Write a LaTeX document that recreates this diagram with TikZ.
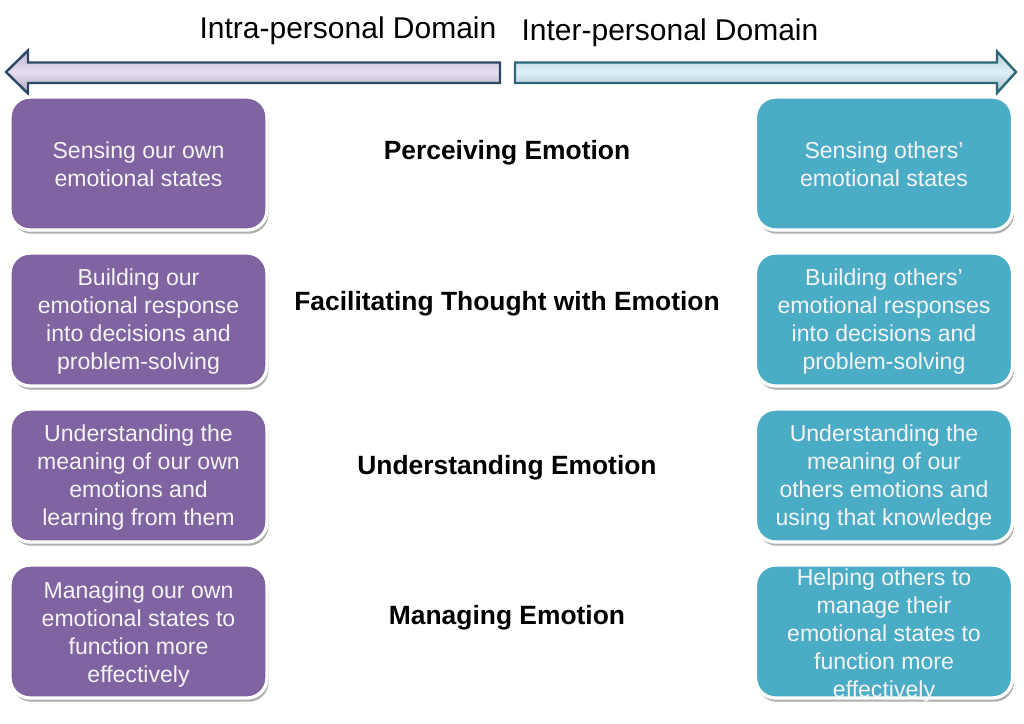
\documentclass[tikz,border=0pt]{standalone}
\usepackage{fontspec}
\setmainfont{Liberation Sans}
\usetikzlibrary{shadows}
\definecolor{purplebox}{HTML}{8064A2}
\definecolor{cyanbox}{HTML}{4BACC6}
\definecolor{lavfill}{HTML}{D9D0EA}
\definecolor{lavedge}{HTML}{2E4762}
\definecolor{cyfill}{HTML}{CDEBF3}
\definecolor{cyedge}{HTML}{2D6878}
\definecolor{boxtext}{HTML}{F4F4F4}
\tikzset{
  box/.style={draw=white, line width=2.5pt, rounded corners=15pt,
    minimum width=192.75pt, minimum height=99.75pt, inner sep=0pt,
    drop shadow={shadow xshift=1.2pt, shadow yshift=-2.8pt, opacity=0.45, fill=black!70}},
  lbox/.style={box, fill=purplebox},
  rbox/.style={box, fill=cyanbox},
  boxtxt/.style={text=boxtext, align=center, inner sep=0pt,
    font=\fontsize{17.3}{21}\selectfont},
  midtxt/.style={font=\fontsize{19.8}{23}\selectfont\bfseries, inner sep=0pt},
  headtxt/.style={font=\fontsize{22.5}{26}\selectfont, inner sep=0pt},
}
\begin{document}
\begin{tikzpicture}[x=0.75pt, y=-0.75pt]
\useasboundingbox (0,0) rectangle (1024,724);
% arrows
\shade[top color=lavfill!88!black, bottom color=lavfill!80!black, middle color=lavfill!70!white, draw=lavedge, line width=1.8pt, line join=miter]
  (500,62.5) -- (28,62.5) -- (28,50.5) -- (6,72) -- (28,93.5) -- (28,83) -- (500,83) -- cycle;
\shade[top color=cyfill!88!black, bottom color=cyfill!80!black, middle color=cyfill!70!white, draw=cyedge, line width=1.8pt, line join=miter]
  (515,62.5) -- (997,62.5) -- (997,51.5) -- (1016,72) -- (997,93) -- (997,83) -- (515,83) -- cycle;
\node[headtxt] (hl) at (348,31) {Intra-personal Domain};
\node[headtxt] (hr) at (670,33) {Inter-personal Domain};
% boxes
\node[lbox] (L1) at (138.5,163.5) {};
\node[lbox] (L2) at (138.5,319.5) {};
\node[lbox] (L3) at (138.5,475.5) {};
\node[lbox] (L4) at (138.5,631.5) {};
\node[rbox] (R1) at (884,163.5) {};
\node[rbox] (R2) at (884,319.5) {};
\node[rbox] (R3) at (884,475.5) {};
\node[rbox] (R4) at (884,631.5) {};
\node[boxtxt] (L1t) at (138.5,164) {Sensing our own\\emotional states};
\node[boxtxt] (L2t) at (138.5,322) {Building our\\emotional response\\into decisions and\\problem-solving};
\node[boxtxt] (L3t) at (138.5,478) {Understanding the\\meaning of our own\\emotions and\\learning from them};
\node[boxtxt] (L4t) at (138.5,635) {Managing our own\\emotional states to\\function more\\effectively};
\node[boxtxt] (R1t) at (884,164) {Sensing others’\\emotional states};
\node[boxtxt] (R2t) at (884,322) {Building others’\\emotional responses\\into decisions and\\problem-solving};
\node[boxtxt] (R3t) at (884,478) {Understanding the\\meaning of our\\others emotions and\\using that knowledge};
\node[boxtxt] (R4t) at (884,636) {Helping others to\\manage their\\emotional states to\\function more\\effectively};
% centre labels
\node[midtxt] (m1) at (507,153) {Perceiving Emotion};
\node[midtxt] (m2) at (507,304) {Facilitating Thought with Emotion};
\node[midtxt] (m3) at (507,468) {Understanding Emotion};
\node[midtxt] (m4) at (507,618) {Managing Emotion};
\end{tikzpicture}
\end{document}
